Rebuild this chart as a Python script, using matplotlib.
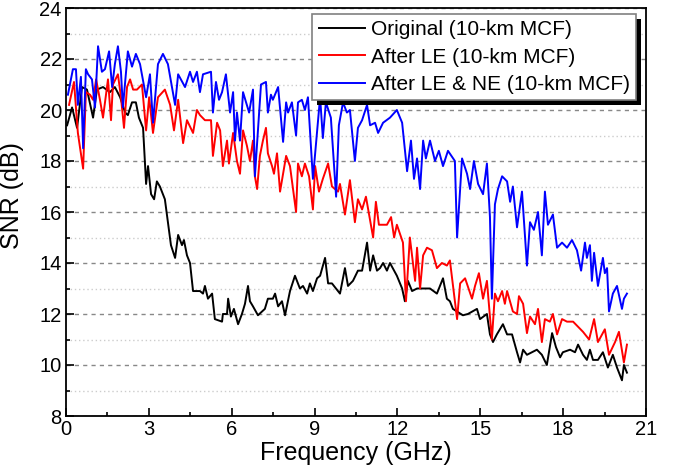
import matplotlib
matplotlib.use('Agg')
import matplotlib.pyplot as plt
from matplotlib.patches import Rectangle
from matplotlib.ticker import MultipleLocator

# ---- data ----
freq_orig = [0.04, 0.22, 0.40, 0.58, 0.76, 0.98, 1.12, 1.34, 1.59, 1.77, 1.96, 2.14, 2.24, 2.39, 2.53,
             2.64, 2.79, 2.90, 2.97, 3.08, 3.19, 3.29, 3.40, 3.58, 3.69, 3.80, 3.95, 4.06, 4.20, 4.27,
             4.38, 4.49, 4.60, 4.85, 4.96, 5.03, 5.14, 5.29, 5.39, 5.65, 5.68, 5.83, 5.87, 5.97, 6.08,
             6.23, 6.37, 6.48, 6.59, 6.66, 6.77, 6.95, 7.20, 7.31, 7.49, 7.57, 7.68, 7.82, 7.93, 8.11,
             8.29, 8.47, 8.58, 8.73, 8.83, 8.94, 9.09, 9.20, 9.38, 9.49, 9.63, 9.92, 10.10, 10.21, 10.39,
             10.57, 10.72, 10.90, 11.01, 11.12, 11.26, 11.37, 11.48, 11.62, 11.73, 11.98, 12.17, 12.27,
             12.38, 12.53, 12.71, 12.93, 13.18, 13.43, 13.65, 13.79, 13.90, 14.01, 14.37, 14.55, 14.88,
             14.99, 15.24, 15.35, 15.46, 15.60, 15.82, 15.97, 16.15, 16.33, 16.44, 16.55, 16.69, 16.87,
             17.05, 17.23, 17.41, 17.60, 17.74, 17.89, 17.99, 18.25, 18.43, 18.54, 18.72, 18.86, 18.97,
             19.08, 19.26, 19.44, 19.62, 19.80, 19.95, 20.13, 20.20, 20.31]
snr_orig = [19.4, 20.1, 19.3, 20.9, 20.8, 19.7, 20.8, 20.9, 20.7, 20.9, 20.5, 19.9, 19.8, 20.3, 20.3,
            19.7, 19.3, 17.1, 17.8, 16.7, 16.5, 17.2, 17.0, 16.5, 15.6, 14.7, 14.2, 15.1, 14.7, 14.9,
            14.3, 14.0, 12.9, 12.9, 12.8, 13.1, 12.6, 12.8, 11.8, 11.7, 12.0, 12.0, 12.6, 11.9, 12.2,
            11.6, 12.0, 12.4, 13.1, 12.5, 12.3, 11.95, 12.2, 12.6, 12.6, 12.8, 12.3, 12.5, 11.95, 12.9,
            13.5, 13.0, 13.1, 12.8, 13.2, 12.9, 13.4, 13.5, 14.2, 13.2, 13.2, 12.8, 13.8, 13.1, 13.3,
            13.7, 13.7, 14.8, 13.7, 14.3, 13.7, 13.8, 14.0, 13.7, 14.0, 13.5, 13.0, 12.5,
            13.3, 12.9, 13.0, 13.0, 13.0, 12.8, 13.4, 12.6, 12.5, 12.2, 11.95, 12.0, 12.2,
            11.8, 12.0, 11.2, 10.9, 11.2, 11.6, 11.2, 11.2, 10.5, 10.1, 10.6, 10.4, 10.5,
            10.6, 10.4, 10.0, 11.25, 10.7, 10.3, 10.5, 10.6, 10.5, 10.8, 10.4, 10.2, 10.6,
            10.2, 10.2, 10.5, 9.9, 10.4, 9.9, 9.4, 10.0, 9.7]

freq_le = [0.11, 0.29, 0.43, 0.62, 0.72, 0.87, 0.98, 1.09, 1.23, 1.34, 1.52, 1.63, 1.70, 1.88, 1.99,
           2.10, 2.21, 2.32, 2.43, 2.57, 2.75, 2.90, 3.01, 3.15, 3.33, 3.58, 3.77, 3.91, 4.06, 4.24,
           4.38, 4.60, 4.74, 4.85, 5.03, 5.25, 5.32, 5.47, 5.58, 5.68, 5.83, 5.90, 6.05, 6.19, 6.30,
           6.41, 6.55, 6.66, 6.77, 6.84, 6.92, 7.02, 7.13, 7.24, 7.31, 7.46, 7.53, 7.64, 7.75, 7.97,
           8.11, 8.33, 8.40, 8.54, 8.65, 8.80, 8.94, 9.02, 9.16, 9.30, 9.49, 9.63, 9.85, 9.92, 10.10,
           10.28, 10.46, 10.57, 10.72, 10.86, 11.12, 11.22, 11.33, 11.62, 11.77, 11.88, 11.98, 12.20,
           12.31, 12.45, 12.64, 12.71, 12.82, 12.93, 13.07, 13.25, 13.43, 13.61, 13.79, 13.90, 14.16,
           14.27, 14.45, 14.70, 14.81, 14.95, 15.10, 15.24, 15.42, 15.53, 15.64, 15.79, 15.89, 15.97,
           16.18, 16.33, 16.40, 16.55, 16.69, 16.80, 16.98, 17.09, 17.23, 17.34, 17.52, 17.63, 17.78,
           17.96, 18.14, 18.36, 18.54, 18.72, 18.94, 19.12, 19.26, 19.51, 19.66, 19.88, 20.02, 20.20,
           20.31]
snr_le = [20.2, 21.1, 19.1, 17.7, 20.7, 20.6, 20.4, 21.2, 20.4, 19.7, 21.2, 19.6, 21.0, 21.4, 20.5,
          19.3, 20.9, 21.2, 20.8, 20.8, 21.0, 19.2, 20.5, 19.1, 20.5, 20.8, 20.2, 19.2, 20.4, 18.7,
          19.6, 19.1, 20.0, 19.8, 19.6, 19.6, 18.2, 19.5, 19.2, 17.8, 18.8, 17.9, 19.1, 18.0, 17.5,
          19.2, 18.6, 18.0, 18.8, 17.4, 16.9, 18.2, 18.8, 19.3, 18.3, 17.8, 17.5, 18.3, 16.8, 18.2,
          17.8, 16.0, 17.9, 17.4, 17.9, 17.4, 16.1, 17.8, 16.8, 17.3, 17.9, 17.0, 16.8, 17.1, 15.9,
          17.25, 15.6, 16.5, 16.1, 16.6, 15.0, 16.4, 15.5, 15.5, 15.8, 15.0, 15.5, 14.8,
          12.5, 15.0, 13.3, 14.6, 13.0, 14.3, 14.6, 14.5, 13.8, 14.0, 13.9, 14.1, 11.8,
          13.2, 13.4, 12.6, 13.1, 13.6, 12.6, 13.3, 11.0, 12.8, 12.5, 12.9, 12.4, 12.9,
          12.1, 12.0, 12.7, 12.4, 11.25, 11.9, 11.6, 12.2, 10.9, 11.8, 11.7, 12.0, 11.2,
          11.8, 11.7, 11.7, 11.5, 11.3, 11.0, 11.8, 10.9, 11.4, 10.4, 10.9, 11.3, 10.1,
          10.8]

freq_ne = [0.07, 0.25, 0.36, 0.43, 0.54, 0.62, 0.72, 0.80, 0.94, 1.05, 1.16, 1.30, 1.41, 1.56, 1.67,
           1.77, 1.88, 1.99, 2.06, 2.24, 2.39, 2.53, 2.68, 2.90, 3.04, 3.15, 3.33, 3.51, 3.69, 3.95,
           4.06, 4.31, 4.49, 4.60, 4.74, 4.85, 4.96, 5.25, 5.32, 5.43, 5.54, 5.65, 5.79, 5.94, 6.05,
           6.12, 6.19, 6.30, 6.41, 6.63, 6.77, 6.84, 7.06, 7.24, 7.31, 7.42, 7.49, 7.68, 7.86, 7.97,
           8.04, 8.18, 8.33, 8.40, 8.54, 8.65, 8.76, 8.94, 9.20, 9.30, 9.41, 9.59, 9.78, 9.88, 10.03,
           10.17, 10.28, 10.46, 10.57, 10.72, 10.90, 11.01, 11.19, 11.30, 11.48, 11.73, 11.98, 12.17,
           12.35, 12.49, 12.60, 12.71, 12.82, 12.93, 13.03, 13.18, 13.36, 13.50, 13.65, 13.83, 14.08,
           14.16, 14.34, 14.52, 14.63, 14.77, 14.92, 15.10, 15.24, 15.35, 15.42, 15.53, 15.64, 15.79,
           15.97, 16.08, 16.18, 16.33, 16.51, 16.69, 16.80, 16.94, 17.09, 17.23, 17.34, 17.45, 17.63,
           17.78, 17.96, 18.14, 18.32, 18.50, 18.65, 18.79, 18.86, 18.97, 19.04, 19.12, 19.26, 19.44,
           19.51, 19.59, 19.66, 19.80, 19.95, 20.13, 20.20, 20.31]
snr_ne = [20.6, 21.6, 21.6, 20.2, 21.3, 18.5, 21.6, 21.4, 21.2, 20.1, 22.5, 21.5, 21.6, 22.3, 20.9,
          21.8, 22.5, 21.5, 20.1, 22.3, 21.7, 22.2, 21.8, 20.5, 21.4, 19.5, 21.8, 22.2, 21.8, 20.2,
          21.4, 20.9, 21.5, 21.1, 21.5, 20.7, 21.4, 21.5, 19.9, 21.1, 20.4, 20.7, 21.4, 19.9, 20.7,
          18.8, 19.9, 18.8, 20.7, 19.9, 20.8, 17.4, 21.0, 21.1, 19.9, 20.6, 20.4, 20.9, 18.75, 20.3,
          19.9, 20.3, 19.0, 20.3, 20.4, 20.0, 20.5, 17.3, 20.5, 18.9, 20.3, 19.7, 16.6, 19.4, 20.3,
          19.9, 20.0, 18.0, 19.3, 19.6, 20.2, 19.4, 19.5, 19.1, 19.5, 19.7, 20.0, 19.5,
          17.6, 18.8, 17.3, 18.1, 16.9, 18.8, 18.1, 18.8, 18.0, 18.4, 17.8, 18.4, 18.0,
          15.0, 18.1, 17.5, 16.9, 18.0, 17.1, 16.7, 17.9, 15.8, 12.6, 16.3, 16.9, 17.4,
          17.2, 16.4, 17.0, 15.4, 16.8, 13.9, 15.6, 15.3, 16.0, 14.3, 16.8, 15.5, 15.9,
          14.6, 14.8, 14.6, 14.9, 14.5, 13.7, 14.8, 14.2, 14.7, 13.3, 14.4, 13.1, 14.2,
          13.6, 13.8, 12.1, 12.8, 13.1, 12.2, 12.6, 12.8]

labels = ['Original (10-km MCF)', 'After LE (10-km MCF)', 'After LE & NE (10-km MCF)']
colors = ['black', 'red', 'blue']

plt.rcParams['font.family'] = ['Liberation Sans', 'DejaVu Sans']

fig = plt.figure(figsize=(6.73, 4.70), dpi=100)
ax = fig.add_axes([66/673, 1 - 416/470, 580/673, 408/470])

ax.plot(freq_orig, snr_orig, color=colors[0], lw=1.4, label=labels[0])
ax.plot(freq_le, snr_le, color=colors[1], lw=1.4, label=labels[1])
ax.plot(freq_ne, snr_ne, color=colors[2], lw=1.4, label=labels[2])

ax.set_xlim(0, 21)
ax.set_ylim(8, 24)
ax.xaxis.set_major_locator(MultipleLocator(3))
ax.xaxis.set_minor_locator(MultipleLocator(1.5))
ax.yaxis.set_major_locator(MultipleLocator(2))
ax.yaxis.set_minor_locator(MultipleLocator(1))
ax.tick_params(which='both', direction='in', labelsize=14.5, width=1.2)
ax.tick_params(which='major', length=6, pad=3)
ax.tick_params(which='minor', length=3)
for s in ax.spines.values():
    s.set_linewidth(1.3)

ax.grid(axis='y', which='major', color='#888888', ls=(0, (3, 3)), lw=1)
ax.grid(axis='y', which='minor', color='#cccccc', ls=(0, (1, 2)), lw=1)
ax.set_axisbelow(True)

ax.set_xlabel('Frequency (GHz)', fontsize=18, labelpad=1)
ax.set_ylabel('SNR (dB)', fontsize=18)
ax.yaxis.set_label_coords(-0.072, 0.54)

leg = ax.legend(loc='upper right', bbox_to_anchor=(636/673, 1 - 14/470),
                bbox_transform=fig.transFigure, borderaxespad=0, fontsize=15,
                fancybox=False, edgecolor='#808080', framealpha=1,
                handlelength=2.2, handletextpad=0.3, labelspacing=0.4, borderpad=0.3)
leg.get_frame().set_linewidth(1.2)

# solid black drop shadow behind the legend box (offset a few pixels)
fig.canvas.draw()
bb = leg.get_window_extent()
shadow = Rectangle((bb.x0 + 5, bb.y0 - 5), bb.width, bb.height, transform=None,
                   facecolor='black', edgecolor='none', zorder=4.9, clip_on=False)
ax.add_artist(shadow)

fig.savefig('out.png', dpi=100)
